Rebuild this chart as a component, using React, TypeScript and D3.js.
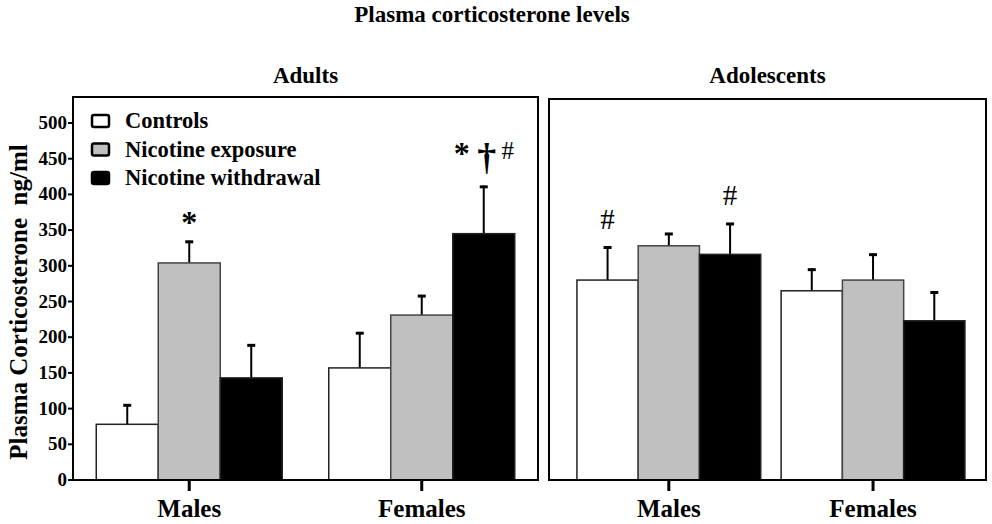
import React from "react";
import * as d3 from "d3";

const title = "Plasma corticosterone levels";
const yLabel = "Plasma Corticosterone  ng/ml";
const panels = ["Adults", "Adolescents"];
const groups = ["Males", "Females"];
const series = ["Controls", "Nicotine exposure", "Nicotine withdrawal"];
const seriesColors = ["#ffffff", "#c0c0c0", "#000000"];
const yTicks = [0, 50, 100, 150, 200, 250, 300, 350, 400, 450, 500];

// values [group][series]
const adultMeans = [
  [78, 304, 143],
  [157, 231, 345],
];
const adultErrors = [
  [28, 31, 47],
  [50, 28, 67],
];
const adolMeans = [
  [280, 328, 316],
  [265, 280, 223],
];
const adolErrors = [
  [47, 18, 44],
  [31, 37, 41],
];

// annotations: panel, group, series, symbol
const annotations = [
  { panel: 0, group: 0, series: 1, symbol: "*" },
  { panel: 0, group: 1, series: 2, symbol: "*" },
  { panel: 0, group: 1, series: 2, symbol: "†" },
  { panel: 0, group: 1, series: 2, symbol: "#" },
  { panel: 1, group: 0, series: 0, symbol: "#" },
  { panel: 1, group: 0, series: 2, symbol: "#" },
];

const FONT = "'Liberation Serif', 'Times New Roman', serif";

export default function App() {
  const W = 992;
  const H = 524;
  const y0 = 480;
  const y = d3.scaleLinear().domain([0, 500]).range([y0, 123]);

  const boxes = [
    { x0: 73, x1: 538, top: 97 },
    { x0: 549, x1: 986, top: 99 },
  ];
  const xs = [
    d3.scaleBand<string>().domain(groups).range([boxes[0].x0, boxes[0].x1]).paddingInner(0.2).paddingOuter(0.1),
    d3.scaleBand<string>().domain(groups).range([boxes[1].x0, boxes[1].x1]).paddingInner(0.1).paddingOuter(0.12).align(0.57),
  ];
  const means = [adultMeans, adolMeans];
  const errs = [adultErrors, adolErrors];

  const annStyle: Record<string, { size: number; weight: string }> = {
    "*": { size: 32, weight: "bold" },
    "†": { size: 38, weight: "bold" },
    "#": { size: 29, weight: "normal" },
  };

  return (
    <svg width={W} height={H} style={{ position: "absolute", left: 0, top: 0, background: "#fff", fontFamily: FONT }}>
      <rect x={0} y={0} width={W} height={H} fill="#fff" />
      <text x={492} y={22} textAnchor="middle" fontSize={23} fontWeight="bold">{title}</text>
      {panels.map((p, pi) => (
        <text key={p} x={(boxes[pi].x0 + boxes[pi].x1) / 2} y={83} textAnchor="middle" fontSize={23} fontWeight="bold">{p}</text>
      ))}
      {/* y label */}
      <text transform={`translate(27,302) rotate(-90)`} textAnchor="middle" fontSize={25} fontWeight="bold" style={{ whiteSpace: "pre" }}>{yLabel}</text>
      {/* y ticks */}
      {yTicks.map((t) => (
        <g key={t}>
          <line x1={68} x2={73} y1={y(t)} y2={y(t)} stroke="#000" strokeWidth={2} />
          <text x={67} y={y(t) + 6} textAnchor="end" fontSize={19} fontWeight="bold">{t}</text>
        </g>
      ))}
      {panels.map((p, pi) => {
        const x = xs[pi];
        const inner = d3.scaleBand<string>().domain(series).range([0, x.bandwidth()]);
        return (
          <g key={p}>
            {groups.map((g, gi) => (
              <g key={g}>
                {series.map((s, si) => {
                  const bx = (x(g) as number) + (inner(s) as number);
                  const bw = inner.bandwidth();
                  const v = means[pi][gi][si];
                  const e = errs[pi][gi][si];
                  const cx = bx + bw / 2;
                  return (
                    <g key={s}>
                      <line x1={cx} x2={cx} y1={y(v)} y2={y(v + e)} stroke="#000" strokeWidth={2} />
                      <line x1={cx - 4} x2={cx + 4} y1={y(v + e) + 1} y2={y(v + e) + 1} stroke="#000" strokeWidth={3} />
                      <rect x={bx} y={y(v)} width={bw} height={y0 - y(v)} fill={seriesColors[si]} stroke={si === 1 ? "#444" : "#222"} strokeWidth={1.5} />
                    </g>
                  );
                })}
                <line x1={(x(g) as number) + x.bandwidth() / 2} x2={(x(g) as number) + x.bandwidth() / 2} y1={y0} y2={y0 + 11} stroke="#000" strokeWidth={3} />
                <text x={(x(g) as number) + x.bandwidth() / 2} y={517} textAnchor="middle" fontSize={25} fontWeight="bold">{g}</text>
              </g>
            ))}
            <rect x={boxes[pi].x0} y={boxes[pi].top} width={boxes[pi].x1 - boxes[pi].x0} height={y0 - boxes[pi].top} fill="none" stroke="#000" strokeWidth={2} />
          </g>
        );
      })}
      {/* annotations */}
      {annotations.map((a, i) => {
        const x = xs[a.panel];
        const inner = d3.scaleBand<string>().domain(series).range([0, x.bandwidth()]);
        const cx = (x(groups[a.group]) as number) + (inner(series[a.series]) as number) + inner.bandwidth() / 2;
        const top = y(means[a.panel][a.group][a.series] + errs[a.panel][a.group][a.series]);
        const st = annStyle[a.symbol];
        const multi = annotations.filter((b) => b.panel === a.panel && b.group === a.group && b.series === a.series).length > 1;
        let dx = 0;
        let by = top - 8;
        if (multi) {
          dx = a.symbol === "*" ? -22 : a.symbol === "#" ? 24 : 3;
          by = a.symbol === "*" ? top - 22 : a.symbol === "#" ? top - 27 : top - 16;
        } else if (a.symbol === "#") {
          by = top - 18;
        }
        return (
          <text key={i} x={cx + dx} y={by} textAnchor="middle" fontSize={multi && a.symbol === "#" ? 25 : st.size} fontWeight={st.weight}>{a.symbol}</text>
        );
      })}
      {/* legend */}
      {series.map((s, si) => (
        <g key={s}>
          <rect x={92} y={115 + si * 28.5} width={17} height={12} rx={2} fill={seriesColors[si]} stroke="#000" strokeWidth={2.5} />
          <text x={125} y={128 + si * 28.5} fontSize={22.5} fontWeight="bold">{s}</text>
        </g>
      ))}
    </svg>
  );
}
